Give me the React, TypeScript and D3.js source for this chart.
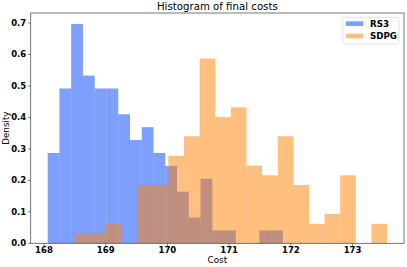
import React from "react";
import * as d3 from "d3";

// RS3 histogram: 20 bins between these bounds, density values
const rs3BinStart = 168.06;
const rs3BinEnd = 171.871;
const rs3Density = [
  0.287, 0.492, 0.697, 0.533, 0.492, 0.492, 0.41, 0.328, 0.369, 0.287,
  0.246, 0.164, 0.082, 0.205, 0.041, 0.041, 0, 0, 0.041, 0.041,
];

// SDPG histogram
const sdpgBinStart = 168.498;
const sdpgBinEnd = 173.558;
const sdpgDensity = [
  0.031, 0.031, 0.062, 0, 0.185, 0.185, 0.278, 0.34, 0.587, 0.401,
  0.432, 0.247, 0.216, 0.34, 0.185, 0.062, 0.093, 0.216, 0, 0.062,
];

const xTicks = [168, 169, 170, 171, 172, 173];
const yTicks = [0, 0.1, 0.2, 0.3, 0.4, 0.5, 0.6, 0.7];
const seriesNames = ["RS3", "SDPG"];
const seriesColors = ["rgb(0,64,255)", "rgb(255,128,0)"];

const W = 407;
const H = 267;
const M = { left: 30.7, right: 3, top: 13, bottom: 23.7 };
const FONT = "'DejaVu Sans', sans-serif";
const SPINE = "#555";

function bins(start: number, end: number, dens: number[]) {
  const w = (end - start) / dens.length;
  return dens.map((d, i) => ({ x0: start + i * w, x1: start + (i + 1) * w, d }));
}

export default function App() {
  const series = [
    bins(rs3BinStart, rs3BinEnd, rs3Density),
    bins(sdpgBinStart, sdpgBinEnd, sdpgDensity),
  ];
  const lo = Math.min(rs3BinStart, sdpgBinStart);
  const hi = Math.max(rs3BinEnd, sdpgBinEnd);
  const pad = (hi - lo) * 0.05;
  const yMax = (d3.max([...rs3Density, ...sdpgDensity]) as number) * 1.05;

  const x = d3.scaleLinear().domain([lo - pad, hi + pad]).range([M.left, W - M.right]);
  const y = d3.scaleLinear().domain([0, yMax]).range([H - M.bottom, M.top]);

  const x0 = M.left;
  const x1 = W - M.right;
  const y0 = H - M.bottom;
  const y1 = M.top;

  return (
    <svg
      width={W}
      height={H}
      style={{ position: "absolute", left: 0, top: 0, background: "#fff" }}
      fontFamily={FONT}
    >
      <rect x={0} y={0} width={W} height={H} fill="#fff" />
      {series.map((bs, si) => (
        <g key={si} fill={seriesColors[si]} fillOpacity={0.5}>
          {bs
            .filter((b) => b.d > 0)
            .map((b, i) => (
              <rect
                key={i}
                x={x(b.x0)}
                y={y(b.d)}
                width={x(b.x1) - x(b.x0)}
                height={y(0) - y(b.d)}
              />
            ))}
        </g>
      ))}
      {/* spines */}
      <rect
        x={x0}
        y={y1}
        width={x1 - x0}
        height={y0 - y1}
        fill="none"
        stroke={SPINE}
        strokeWidth={0.8}
      />
      {/* x ticks */}
      {xTicks.map((t) => (
        <g key={t}>
          <line x1={x(t)} x2={x(t)} y1={y0} y2={y0 + 2.5} stroke={SPINE} strokeWidth={0.8} />
          <text
            x={x(t)}
            y={y0 + 9.5}
            textAnchor="middle"
            fontSize={8.5}
            fontWeight="bold"
          >
            {t}
          </text>
        </g>
      ))}
      {/* y ticks */}
      {yTicks.map((t) => (
        <g key={t}>
          <line x1={x0 - 2.5} x2={x0} y1={y(t)} y2={y(t)} stroke={SPINE} strokeWidth={0.8} />
          <text
            x={x0 - 4.5}
            y={y(t) + 3}
            textAnchor="end"
            fontSize={8.5}
            fontWeight="bold"
          >
            {t.toFixed(1)}
          </text>
        </g>
      ))}
      {/* labels */}
      <text x={(x0 + x1) / 2} y={263} textAnchor="middle" fontSize={8.8}>
        Cost
      </text>
      <text
        transform={`translate(9.3,${(y0 + y1) / 2}) rotate(-90)`}
        textAnchor="middle"
        fontSize={8.8}
      >
        Density
      </text>
      <text x={(x0 + x1) / 2} y={10} textAnchor="middle" fontSize={10.2}>
        Histogram of final costs
      </text>
      {/* legend */}
      <g>
        <rect
          x={342.7}
          y={17.3}
          width={56.3}
          height={26.7}
          rx={2}
          fill="#fff"
          fillOpacity={0.8}
          stroke="#ddd"
          strokeWidth={0.8}
        />
        {seriesNames.map((n, i) => (
          <g key={n}>
            <rect
              x={345.7}
              y={21.3 + i * 12.3}
              width={17.6}
              height={4.7}
              fill={seriesColors[i]}
              fillOpacity={0.5}
            />
            <text x={370} y={27 + i * 12.3} fontSize={8.7} fontWeight="bold">
              {n}
            </text>
          </g>
        ))}
      </g>
    </svg>
  );
}
